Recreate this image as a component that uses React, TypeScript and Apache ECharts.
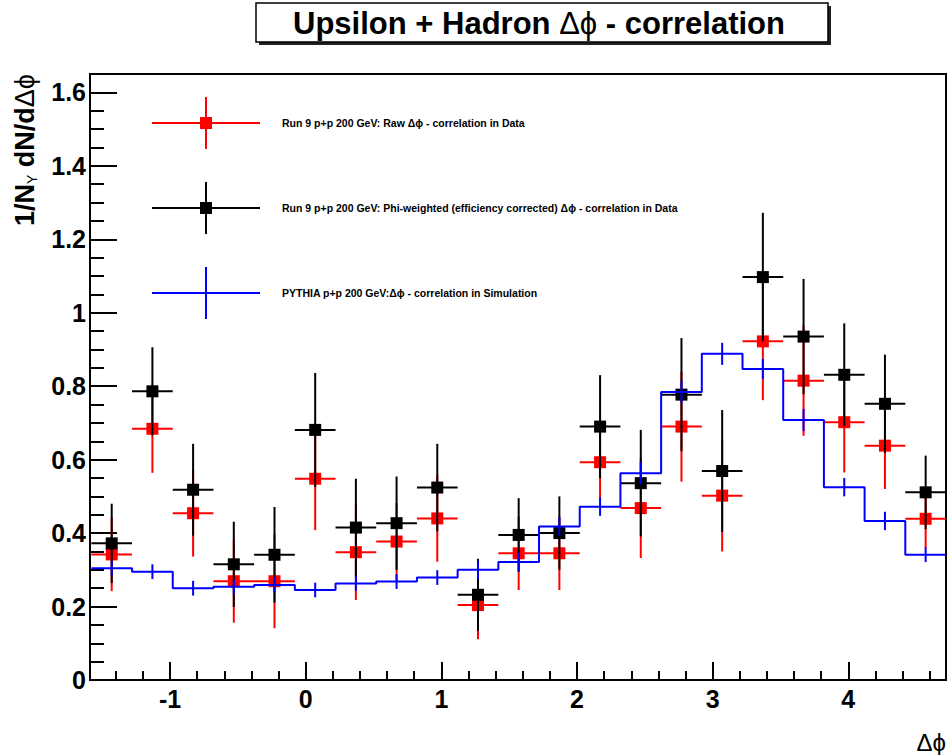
import React, { useEffect, useRef } from 'react';
import * as echarts from 'echarts';

// ---- data ----
const binCenters = [-1.43, -1.13, -0.83, -0.53, -0.23, 0.07, 0.37, 0.67, 0.97, 1.27, 1.57, 1.87, 2.17, 2.47, 2.77, 3.07, 3.37, 3.67, 3.97, 4.27, 4.57];
const binWidth = 0.3;

const rawValues = [0.342, 0.684, 0.454, 0.269, 0.269, 0.548, 0.348, 0.377, 0.44, 0.204, 0.345, 0.345, 0.593, 0.468, 0.69, 0.502, 0.922, 0.815, 0.702, 0.638, 0.439];
const rawErrors = [0.1, 0.12, 0.118, 0.113, 0.128, 0.14, 0.13, 0.105, 0.118, 0.093, 0.1, 0.1, 0.1, 0.136, 0.15, 0.152, 0.16, 0.15, 0.137, 0.118, 0.08];

const corrValues = [0.372, 0.786, 0.518, 0.315, 0.341, 0.681, 0.415, 0.427, 0.524, 0.232, 0.395, 0.4, 0.69, 0.536, 0.777, 0.569, 1.097, 0.935, 0.831, 0.752, 0.511];
const corrErrors = [0.108, 0.12, 0.125, 0.116, 0.13, 0.155, 0.133, 0.127, 0.119, 0.098, 0.1, 0.1, 0.14, 0.145, 0.154, 0.166, 0.175, 0.157, 0.14, 0.134, 0.1];

const pythiaValues = [0.304, 0.295, 0.25, 0.254, 0.259, 0.245, 0.263, 0.268, 0.279, 0.3, 0.321, 0.418, 0.472, 0.563, 0.784, 0.888, 0.847, 0.708, 0.525, 0.433, 0.341];
const pythiaErrors = [0.02, 0.02, 0.02, 0.02, 0.02, 0.02, 0.02, 0.02, 0.02, 0.025, 0.025, 0.025, 0.025, 0.03, 0.03, 0.03, 0.027, 0.03, 0.025, 0.025, 0.02];

const xMajorTicks = [-1, 0, 1, 2, 3, 4];
const xMinorTicks = [-1.4, -1.2, -0.8, -0.6, -0.4, -0.2, 0.2, 0.4, 0.6, 0.8, 1.2, 1.4, 1.6, 1.8, 2.2, 2.4, 2.6, 2.8, 3.2, 3.4, 3.6, 3.8, 4.2, 4.4, 4.6];
const yMajorTicks = [0, 0.2, 0.4, 0.6, 0.8, 1, 1.2, 1.4, 1.6];
const yMinorTicks = [0.05, 0.1, 0.15, 0.25, 0.3, 0.35, 0.45, 0.5, 0.55, 0.65, 0.7, 0.75, 0.85, 0.9, 0.95, 1.05, 1.1, 1.15, 1.25, 1.3, 1.35, 1.45, 1.5, 1.55, 1.65];

const X_MIN = -1.59;
const X_MAX = 4.72;
const Y_MIN = 0;
const Y_MAX = 1.65;

const legendLabels = [
  'Run 9 p+p 200 GeV: Raw Δϕ - correlation in Data',
  'Run 9 p+p 200 GeV: Phi-weighted (efficiency corrected) Δϕ - correlation in Data',
  'PYTHIA p+p 200 GeV:Δϕ - correlation in Simulation',
];

const FONT = "'Liberation Sans', Arial, Helvetica, sans-serif";
const RED = '#ff0000';
const BLACK = '#000000';
const BLUE = '#0000ff';
const MARK = 12;

function errRenderer(color: string, withMarker: boolean, withHBar: boolean) {
  return (params: any, api: any) => {
    const x = api.value(0);
    const y = api.value(1);
    const e = api.value(2);
    const w = api.value(3);
    const c = api.coord([x, y]);
    const top = api.coord([x, y + e]);
    const bot = api.coord([x, y - e]);
    const children: any[] = [
      { type: 'line', shape: { x1: c[0], y1: top[1], x2: c[0], y2: bot[1] }, style: { stroke: color, lineWidth: 2 } },
    ];
    if (withHBar) {
      const l = api.coord([x - w / 2, y]);
      const r = api.coord([x + w / 2, y]);
      children.push({ type: 'line', shape: { x1: l[0], y1: c[1], x2: r[0], y2: c[1] }, style: { stroke: color, lineWidth: 2 } });
    }
    if (withMarker) {
      children.push({ type: 'rect', shape: { x: c[0] - MARK / 2, y: c[1] - MARK / 2, width: MARK, height: MARK }, style: { fill: color } });
    }
    return { type: 'group', children };
  };
}

function legendEntry(y: number, color: string, marker: boolean, label: string) {
  const cx = 206;
  const children: any[] = [
    { type: 'line', shape: { x1: 152, y1: y, x2: 260, y2: y }, style: { stroke: color, lineWidth: 2 } },
    { type: 'line', shape: { x1: cx, y1: y - 26, x2: cx, y2: y + 26 }, style: { stroke: color, lineWidth: 2 } },
  ];
  if (marker) {
    children.push({ type: 'rect', shape: { x: cx - 6, y: y - 6, width: 12, height: 12 }, style: { fill: color } });
  }
  children.push({
    type: 'text',
    style: { x: 282, y, text: label, fontFamily: FONT, fontWeight: 'bold', fontSize: 10.5, fill: '#000', align: 'left', verticalAlign: 'middle' },
  });
  return { type: 'group', children };
}

export default function App() {
  const ref = useRef<HTMLDivElement>(null);

  useEffect(() => {
    if (!ref.current) return;
    const chart = echarts.init(ref.current, undefined, { renderer: 'svg' });

    const rawData = binCenters.map((x, i) => [x, rawValues[i], rawErrors[i], binWidth]);
    const corrData = binCenters.map((x, i) => [x, corrValues[i], corrErrors[i], binWidth]);
    const pyErrData = binCenters.map((x, i) => [x, pythiaValues[i], pythiaErrors[i], binWidth]);
    const stepData: number[][] = binCenters.map((x, i) => [x - binWidth / 2, pythiaValues[i]]);
    stepData.push([binCenters[binCenters.length - 1] + binWidth / 2, pythiaValues[pythiaValues.length - 1]]);

    const labelFmt = (v: number) => String(Number(Number(v).toFixed(1)));

    const option: any = {
      animation: false,
      backgroundColor: '#ffffff',
      grid: { left: 90, right: 2, top: 74, bottom: 75, show: true, borderColor: '#000', borderWidth: 2, containLabel: false },
      xAxis: [
        {
          type: 'value', min: X_MIN, max: X_MAX, position: 'bottom',
          axisLine: { show: true, onZero: false, lineStyle: { color: '#000', width: 2 } },
          axisTick: { show: true, inside: true, length: 18, customValues: xMajorTicks, lineStyle: { color: '#000', width: 2 } },
          axisLabel: { show: true, customValues: xMajorTicks, formatter: labelFmt, fontFamily: FONT, fontWeight: 'bold', fontSize: 25, color: '#000', margin: 6 },
          splitLine: { show: false },
        },
        {
          type: 'value', min: X_MIN, max: X_MAX, position: 'bottom',
          axisLine: { show: false, onZero: false },
          axisTick: { show: true, inside: true, length: 9, customValues: xMinorTicks, lineStyle: { color: '#000', width: 2 } },
          axisLabel: { show: false },
          splitLine: { show: false },
        },
      ],
      yAxis: [
        {
          type: 'value', min: Y_MIN, max: Y_MAX, position: 'left',
          axisLine: { show: true, onZero: false, lineStyle: { color: '#000', width: 2 } },
          axisTick: { show: true, inside: true, length: 27, customValues: yMajorTicks, lineStyle: { color: '#000', width: 2 } },
          axisLabel: { show: true, customValues: yMajorTicks, formatter: labelFmt, fontFamily: FONT, fontWeight: 'bold', fontSize: 25, color: '#000', margin: 4 },
          splitLine: { show: false },
        },
        {
          type: 'value', min: Y_MIN, max: Y_MAX, position: 'left',
          axisLine: { show: false, onZero: false },
          axisTick: { show: true, inside: true, length: 14, customValues: yMinorTicks, lineStyle: { color: '#000', width: 2 } },
          axisLabel: { show: false },
          splitLine: { show: false },
        },
      ],
      series: [
        {
          name: 'raw', type: 'custom', xAxisIndex: 0, yAxisIndex: 0,
          renderItem: errRenderer(RED, true, true), data: rawData,
          encode: { x: 0, y: 1 }, z: 2,
        },
        {
          name: 'corrected', type: 'custom', xAxisIndex: 0, yAxisIndex: 0,
          renderItem: errRenderer(BLACK, true, true), data: corrData,
          encode: { x: 0, y: 1 }, z: 3,
        },
        {
          name: 'pythia', type: 'line', xAxisIndex: 0, yAxisIndex: 0, step: 'end',
          data: stepData, symbol: 'none', lineStyle: { color: BLUE, width: 2 }, z: 4,
        },
        {
          name: 'pythiaErr', type: 'custom', xAxisIndex: 0, yAxisIndex: 0,
          renderItem: errRenderer(BLUE, false, false), data: pyErrData,
          encode: { x: 0, y: 1 }, z: 4,
        },
      ],
      graphic: [
        { type: 'rect', shape: { x: 259, y: 6, width: 572, height: 39 }, style: { fill: '#222' }, z: 10 },
        { type: 'rect', shape: { x: 256, y: 3, width: 572, height: 39 }, style: { fill: '#fff', stroke: '#000', lineWidth: 1.5 }, z: 11 },
        {
          type: 'text', z: 12,
          style: {
            x: 539, y: 23, align: 'center', verticalAlign: 'middle',
            text: '{b|Upsilon + Hadron }{g|Δϕ}{b| - correlation}',
            rich: {
              b: { fontFamily: FONT, fontWeight: 'bold', fontSize: 31, fill: '#000' },
              g: { fontFamily: FONT, fontWeight: 'normal', fontSize: 31, fill: '#000' },
            },
          },
        },
        {
          type: 'text', z: 12, x: 25, y: 74, rotation: Math.PI / 2,
          style: {
            x: 0, y: 0, align: 'right', verticalAlign: 'middle',
            text: '{b|1/N}{s|Υ}{b| dN/d}{g|Δϕ}',
            rich: {
              b: { fontFamily: FONT, fontWeight: 'bold', fontSize: 27, fill: '#000' },
              s: { fontFamily: FONT, fontWeight: 'normal', fontSize: 14, fill: '#000', verticalAlign: 'bottom', padding: [14, 0, 0, 0] },
              g: { fontFamily: FONT, fontWeight: 'normal', fontSize: 27, fill: '#000' },
            },
          },
        },
        {
          type: 'text', z: 12,
          style: { x: 946, y: 742, align: 'right', verticalAlign: 'middle', text: 'Δϕ', fontFamily: FONT, fontSize: 24, fill: '#000' },
        },
        legendEntry(123, RED, true, legendLabels[0]),
        legendEntry(208, BLACK, true, legendLabels[1]),
        legendEntry(293, BLUE, false, legendLabels[2]),
      ],
    };

    chart.setOption(option);
    return () => chart.dispose();
  }, []);

  return (
    <div
      ref={ref}
      style={{ position: 'absolute', left: 0, top: 0, width: 948, height: 755, background: '#fff' }}
    />
  );
}
